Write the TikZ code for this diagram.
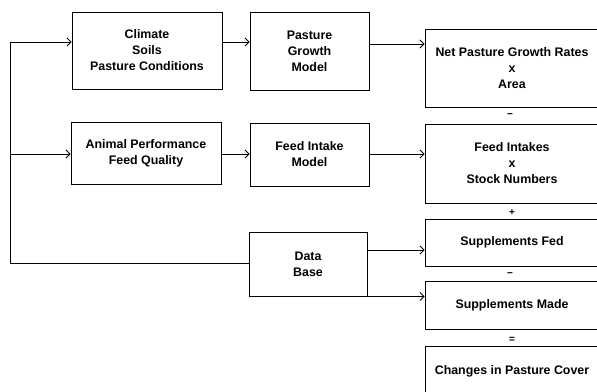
\documentclass[tikz,border=0pt]{standalone}
\usepackage{fontspec}
\setmainfont{Liberation Sans}
\usetikzlibrary{arrows.meta}
\begin{document}
\begin{tikzpicture}[x=1pt,y=-1pt,
  box/.style={draw,line width=0.9pt,rectangle,align=center,inner sep=0pt,
    font=\fontsize{12.4}{16}\selectfont\bfseries},
  conn/.style={line width=0.8pt},
  arr/.style={line width=0.8pt,-{Straight Barb[length=4pt,width=8pt]}},
  op/.style={inner sep=0pt,font=\fontsize{10}{10}\selectfont\bfseries}]
\useasboundingbox (0,0) rectangle (597,391);
\node[box,minimum width=150,minimum height=77] (b1) at (147,50.5) {Climate\\Soils\\Pasture Conditions};
\node[box,minimum width=119,minimum height=78] (b2) at (309.5,51) {Pasture\\Growth\\Model};
\node[box,minimum width=150,minimum height=62] (b3) at (146,153) {Animal Performance\\Feed Quality};
\node[box,minimum width=119,minimum height=63] (b4) at (309.5,154.5) {Feed Intake\\Model};
\node[box,minimum width=118,minimum height=64] (db) at (308,264) {Data\\Base};
\node[box,minimum width=174,minimum height=78] (net) at (512,68) {Net Pasture Growth Rates\\x\\Area};
\node[box,minimum width=174,minimum height=79] (fi) at (512,163.5) {Feed Intakes\\x\\Stock Numbers};
\node[box,minimum width=174,minimum height=47] (sf) at (512,242.5) {Supplements Fed};
\node[box,minimum width=174,minimum height=48] (sm) at (512,305) {Supplements Made};
\node[box,minimum width=174,minimum height=50] (cc) at (512,371) {Changes in Pasture Cover};
\node[op] (o1) at (510,116) {−};
\node[op] (o2) at (512,213) {+};
\node[op] (o3) at (510,275) {−};
\node[op] (o4) at (512,340) {=};
\coordinate (bt) at (10,42);
\coordinate (bm) at (10,154);
\coordinate (bb) at (10,263);
\draw[conn] (bt) -- (bb) -- (db.west |- bb);
\draw[arr] (bt) -- (b1.west |- bt);
\draw[arr] (bm) -- (b3.west |- bm);
\draw[arr] (b1.east |- bt) -- (b2.west |- bt);
\draw[arr] (b2.east |- 0,44) -- (net.west |- 0,44);
\draw[arr] (b3.east |- bm) -- (b4.west |- bm);
\draw[arr] (b4.east |- bm) -- (fi.west |- bm);
\draw[arr] (db.east |- 0,250) -- (sf.west |- 0,250);
\draw[arr] (db.south east) -- (sm.west |- db.south east);
\end{tikzpicture}
\end{document}
